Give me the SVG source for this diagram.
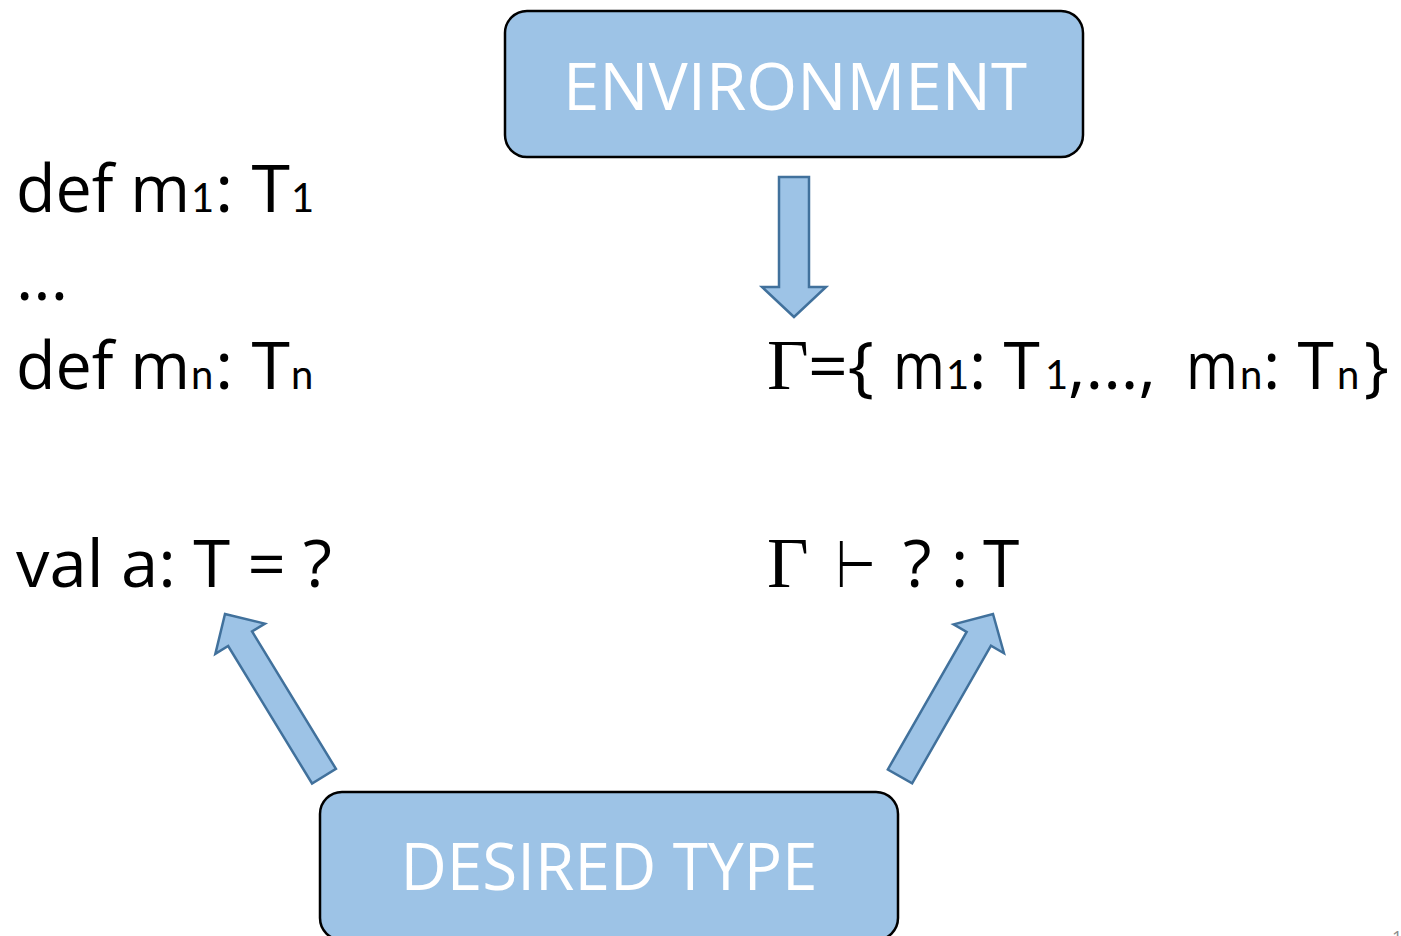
<svg xmlns="http://www.w3.org/2000/svg" width="1401" height="936" viewBox="0 0 1401 936">
  <style>
    .box { fill: #9DC3E6; stroke: #000000; stroke-width: 2.5; }
    .boxlabel { font-family: "Open Sans", "Liberation Sans", sans-serif; font-size: 66px; fill: #ffffff; text-anchor: middle; }
    .arrow { fill: #9DC3E6; stroke: #41719C; stroke-width: 2.5; stroke-linejoin: miter; }
    .code { font-family: "Open Sans", "Liberation Sans", sans-serif; font-size: 66px; fill: #000000; }
    .sub { font-family: Lato, "Open Sans", sans-serif; font-size: 40px; }
    .greek { font-family: "Liberation Serif", "DejaVu Serif", serif; font-size: 72px; }
    .pagenum { font-family: "Open Sans", "Liberation Sans", sans-serif; font-size: 18px; fill: #8c8c8c; }
  </style>
  <defs>
    <!-- block arrow pointing up, tip at origin -->
    <path id="arrow-short" d="M0,0 L32,30 L15,30 L15,140 L-15,140 L-15,30 L-32,30 Z"/>
    <path id="arrow-diag" d="M0,0 L29,29 L14,29 L14,190 L-14,190 L-14,29 L-29,29 Z"/>
  </defs>

  <rect width="1401" height="936" fill="#ffffff"/>

  <g id="environment">
    <rect class="box" x="505" y="11" width="578" height="146" rx="22" ry="22"/>
    <text class="boxlabel" x="795" y="110" textLength="464" lengthAdjust="spacingAndGlyphs">ENVIRONMENT</text>
  </g>

  <g id="desired-type">
    <rect class="box" x="320" y="792" width="578" height="148" rx="22" ry="22"/>
    <text class="boxlabel" x="609" y="890" textLength="417" lengthAdjust="spacingAndGlyphs">DESIRED TYPE</text>
  </g>

  <g id="definitions">
    <text class="code" y="212"><tspan x="16" textLength="174" lengthAdjust="spacingAndGlyphs">def m</tspan><tspan class="sub" x="191">1</tspan><tspan x="215" textLength="75" lengthAdjust="spacingAndGlyphs">: T</tspan><tspan class="sub" x="291">1</tspan></text>
    <text class="code" x="16" y="300">...</text>
    <text class="code" y="389"><tspan x="16" textLength="174" lengthAdjust="spacingAndGlyphs">def m</tspan><tspan class="sub" x="191">n</tspan><tspan x="215" textLength="75" lengthAdjust="spacingAndGlyphs">: T</tspan><tspan class="sub" x="291">n</tspan></text>
  </g>

  <g id="value">
    <text class="code" x="16" y="587" textLength="316" lengthAdjust="spacingAndGlyphs">val a: T = ?</text>
  </g>

  <g id="context">
    <text class="code" y="389"><tspan class="greek" x="767">Γ</tspan><tspan x="808" textLength="66" lengthAdjust="spacingAndGlyphs">={</tspan><tspan x="893" textLength="52" lengthAdjust="spacingAndGlyphs">m</tspan><tspan class="sub" x="946">1</tspan><tspan x="969">: T</tspan><tspan class="sub" x="1045">1</tspan><tspan x="1068" textLength="88" lengthAdjust="spacingAndGlyphs">,...,</tspan><tspan x="1186" textLength="52" lengthAdjust="spacingAndGlyphs">m</tspan><tspan class="sub" x="1240">n</tspan><tspan x="1263">: T</tspan><tspan class="sub" x="1337">n</tspan><tspan x="1364">}</tspan></text>
  </g>

  <g id="judgement">
    <text class="code" y="587"><tspan class="greek" x="767">Γ</tspan><tspan x="836" textLength="40" lengthAdjust="spacingAndGlyphs">⊢</tspan><tspan x="903">?</tspan><tspan x="951">:</tspan><tspan x="983">T</tspan></text>
  </g>

  <g id="connectors">
    <use href="#arrow-short" class="arrow" transform="translate(794,317) rotate(180)"/>
    <use href="#arrow-diag" class="arrow" transform="translate(225,614) rotate(-31.4)"/>
    <use href="#arrow-diag" class="arrow" transform="translate(993,614) rotate(29.8) scale(1,0.985)"/>
  </g>

  <text class="pagenum" x="1392" y="944">1</text>
</svg>
